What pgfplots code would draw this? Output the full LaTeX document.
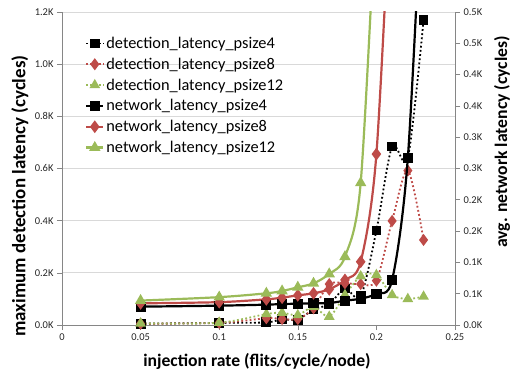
\documentclass[border=0pt]{standalone}
\usepackage{fontspec}
\setmainfont{Carlito}
\usepackage{pgfplots}
\usepackage{pgfplotstable}
\pgfplotsset{compat=1.18}
\usetikzlibrary{calc}
\definecolor{xred}{HTML}{BE4B48}
\definecolor{xgreen}{HTML}{9BBB59}
\definecolor{axgray}{HTML}{868686}
\definecolor{grd}{HTML}{D9D9D9}

\pgfplotstableread{
x     d4    d8   d12
0.05  5     5    6
0.10  8     8    9
0.13  10    26   42
0.14  22    23   47
0.15  20    23   38
0.16  60    64   70
0.17  80    157  32
0.18  140   160  115
0.19  110   157  187
0.20  362   170  192
0.21  684   399  115
0.22  641   592  100
0.23  1169  326  109
}\dettable

\pgfplotstableread{
x     n4
0.05  29.3
0.10  30.9
0.13  32.5
0.14  33.5
0.15  34.0
0.16  34.6
0.17  35.0
0.18  38.9
0.19  42.0
0.20  50.0
0.21  72.0
0.22  267
0.23  750
}\netfour

\pgfplotstableread{
x     n8
0.05  34.6
0.10  36.5
0.13  41.0
0.14  43.7
0.15  47.4
0.16  50.6
0.17  57.0
0.18  72.0
0.19  101
0.20  273
0.21  750
}\neteight

\pgfplotstableread{
x     n12
0.05  39.0
0.10  44.5
0.13  50.6
0.14  54.3
0.15  60.2
0.16  66.5
0.17  81.5
0.18  109
0.19  227
0.20  690
}\nettwelve

\pgfplotsset{
  base/.style={
    width=393bp, height=313bp, scale only axis,
    xmin=0, xmax=0.25,
    axis line style={axgray},
    tick style={axgray, line width=0.6bp},
    tick align=outside,
    major tick length=5bp,
    tick label style={font=\fontsize{10.5}{12}\selectfont, text=black!85},
  },
  det4/.style={black, line width=1.8bp, dash pattern=on 1.8bp off 2.4bp, smooth, mark=square*, mark size=4bp, mark options={solid}},
  det8/.style={xred, line width=1.8bp, dash pattern=on 1.8bp off 2.4bp, smooth, mark=diamond*, mark size=4.6bp, mark options={solid}},
  det12/.style={xgreen, line width=1.8bp, dash pattern=on 1.8bp off 2.4bp, smooth, mark=triangle*, mark size=4.4bp, mark options={solid}},
  net4/.style={black, line width=2.2bp, solid, smooth, mark=square*, mark size=4bp},
  net8/.style={xred, line width=2.2bp, solid, smooth, mark=diamond*, mark size=4.6bp},
  net12/.style={xgreen, line width=2.2bp, solid, smooth, mark=triangle*, mark size=4.4bp},
}

\begin{document}
\begin{tikzpicture}
\begin{axis}[base, name=ax,
  ymin=0, ymax=1200,
  axis x line*=bottom, axis y line*=left,
  xtick={0,0.05,0.1,0.15,0.2,0.25},
  xticklabels={0,0.05,0.1,0.15,0.2,0.25},
  ytick={0,200,...,1200},
  yticklabels={0.0K,0.2K,0.4K,0.6K,0.8K,1.0K,1.2K},
  ymajorgrids, grid style={grd, line width=0.8bp},
  xlabel={injection rate (flits/cycle/node)},
  xlabel style={at={(axis description cs:0.496,-0.118)}, anchor=center,
    font=\bfseries\fontsize{17.7}{20}\selectfont},
  ylabel={maximum detection latency (cycles)},
  ylabel style={at={(axis description cs:-0.107,0.412)}, anchor=center,
    font=\bfseries\fontsize{19}{22}\selectfont},
  legend style={draw=none, fill=none, at={(0.0585,0.927)}, anchor=north west,
    font=\fontsize{16.4}{19}\selectfont, row sep=4bp, inner sep=0pt},
  legend cell align=left,
]
\addplot[det4] table[x=x, y=d4] {\dettable};
\addlegendentry{detection\_latency\_psize4}
\addplot[det8] table[x=x, y=d8] {\dettable};
\addlegendentry{detection\_latency\_psize8}
\addplot[det12] table[x=x, y=d12] {\dettable};
\addlegendentry{detection\_latency\_psize12}
\addlegendimage{net4}
\addlegendentry{network\_latency\_psize4}
\addlegendimage{net8}
\addlegendentry{network\_latency\_psize8}
\addlegendimage{net12}
\addlegendentry{network\_latency\_psize12}
\end{axis}
\begin{axis}[base,
  ymin=0, ymax=500,
  axis x line=none, axis y line*=right,
  ytick={0,50,...,500},
  yticklabels={0.0K,0.1K,0.1K,0.2K,0.2K,0.3K,0.3K,0.4K,0.4K,0.5K,0.5K},
  ylabel={avg. network latency (cycles)},
  ylabel style={at={(axis description cs:1.1196,0.585)}, anchor=center,
    font=\bfseries\fontsize{17.7}{20}\selectfont},
]
\addplot[net4] table[x=x, y=n4] {\netfour};
\addplot[net8] table[x=x, y=n8] {\neteight};
\addplot[net12] table[x=x, y=n12] {\nettwelve};
\end{axis}
\pgfresetboundingbox
\path[use as bounding box] ($(ax.south west)+(-62bp,-50bp)$) rectangle ($(ax.north east)+(55bp,12bp)$);
\end{tikzpicture}
\end{document}
